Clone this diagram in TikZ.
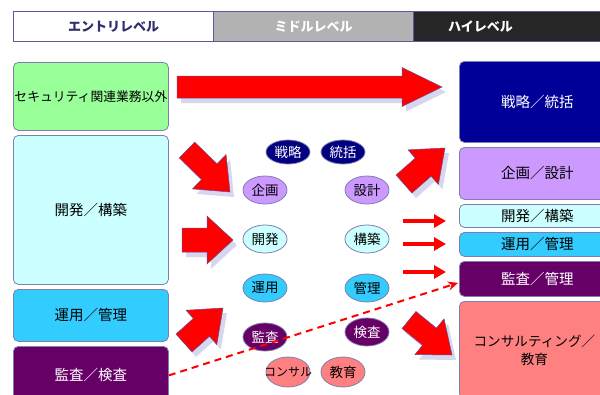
\documentclass[tikz,border=0pt]{standalone}
\usepackage{fontspec}
\setmainfont{Noto Sans CJK JP}
\usetikzlibrary{calc,arrows.meta,shapes.geometric}
\definecolor{headline}{HTML}{5A5A9E}
\definecolor{boxline}{HTML}{7F7FAE}
\definecolor{cgreen}{HTML}{99FF99}
\definecolor{clcyan}{HTML}{CCFFFF}
\definecolor{ccyan}{HTML}{33CCFF}
\definecolor{cpurple}{HTML}{660066}
\definecolor{cnavy}{HTML}{000099}
\definecolor{cnavyb}{HTML}{000080}
\definecolor{clav}{HTML}{CC99FF}
\definecolor{csalmon}{HTML}{FF8080}
\definecolor{cgray}{HTML}{B2B2B2}
\definecolor{cdark}{HTML}{262626}
\definecolor{cshadow}{HTML}{D6D6EE}
\definecolor{headtext}{HTML}{2E2E6E}
\definecolor{arredge}{HTML}{6A4A9A}
\tikzset{
  hdr/.style={draw=headline, line width=1pt, anchor=north west, minimum width=200pt, minimum height=30pt, inner sep=0pt, font=\fontsize{13}{15}\selectfont\bfseries},
  lbox/.style={draw=boxline, line width=0.8pt, rounded corners=5pt, anchor=north west, minimum width=155pt, inner sep=0pt, font=\fontsize{14.5}{16}\selectfont},
  rbox/.style={draw=boxline, line width=0.8pt, rounded corners=5pt, anchor=north west, minimum width=156pt, inner sep=0pt, font=\fontsize{14.5}{18}\selectfont, align=center},
  ell/.style={ellipse, draw=boxline, line width=0.8pt, minimum width=44pt, minimum height=28pt, inner sep=0pt, font=\fontsize{13.5}{15}\selectfont},
  bashadow/.style={fill=cshadow, transform canvas={shift={(4pt,-5pt)}}},
  bamain/.style={fill=red, draw=arredge, line width=0.5pt, line join=miter},
  thinarr/.style={draw=red, line width=4pt, -{Triangle[length=12pt,width=13pt]}},
  dasharr/.style={draw=red, line width=2pt, dash pattern=on 7pt off 5pt, -{Stealth[length=10pt,width=9pt]}}
}
\newcommand\blockarrow[5]{%
  \coordinate (ba-h) at ($(#2)!#5pt!(#1)$);
  \foreach \st in {bashadow,bamain}{%
    \path[\st] ($(#1)!#3pt!90:(#2)$) -- ($(ba-h)!#3pt!90:(#2)$) -- ($(ba-h)!#4pt!90:(#2)$) -- (#2) -- ($(ba-h)!#4pt!-90:(#2)$) -- ($(ba-h)!#3pt!-90:(#2)$) -- ($(#1)!#3pt!-90:(#2)$) -- cycle;
  }%
}
\begin{document}
\begin{tikzpicture}[x=1pt,y=-1pt]
\useasboundingbox (0,0) rectangle (600,394);
\begin{scope}
\clip (0,0) rectangle (600,394);
% header
\node[hdr, fill=white, text=headtext] (H1) at (13,11) {エントリレベル};
\node[hdr, fill=cgray, text=white] (H2) at (213,11) {ミドルレベル};
\node[hdr, fill=cdark, text=white, minimum width=200pt] (H3) at (413,11) {\hspace*{-66pt}ハイレベル};
% left boxes
\node[lbox, fill=cgreen, minimum height=68pt, font=\fontsize{12.8}{15}\selectfont] (L1) at (13,62) {セキュリティ関連業務以外};
\node[lbox, fill=clcyan, minimum height=149pt] (L2) at (13,135) {開発／構築};
\node[lbox, fill=ccyan, minimum height=52pt] (L3) at (13,289) {運用／管理};
\node[lbox, fill=cpurple, text=white, minimum height=58pt] (L4) at (13,346) {監査／検査};
% right boxes
\node[rbox, fill=cnavy, text=white, minimum height=81pt] (R1) at (459,61) {戦略／統括};
\node[rbox, fill=clav, minimum height=52pt] (R2) at (459,147) {企画／設計};
\node[rbox, fill=clcyan, minimum height=23pt] (R3) at (459,204) {開発／構築};
\node[rbox, fill=ccyan, minimum height=24pt] (R4) at (459,232) {運用／管理};
\node[rbox, fill=cpurple, text=white, minimum height=35pt] (R5) at (459,261) {監査／管理};
\node[rbox, fill=csalmon, minimum height=97pt, minimum width=150pt, font=\fontsize{13.6}{18}\selectfont] (R6) at (459,301) {コンサルティング／\\教育};
\fill[csalmon] (600,306) rectangle (620,394);
% ellipses
\node[ell, fill=cnavyb, text=white, minimum height=24pt] (E1) at (288,152) {戦略};
\node[ell, fill=cnavyb, text=white, minimum height=24pt] (E2) at (343,152) {統括};
\node[ell, fill=clav] (E3) at (265,190) {企画};
\node[ell, fill=clav] (E4) at (367,190) {設計};
\node[ell, fill=clcyan] (E5) at (265,239) {開発};
\node[ell, fill=clcyan] (E6) at (367,239) {構築};
\node[ell, fill=ccyan] (E7) at (265,288) {運用};
\node[ell, fill=ccyan] (E8) at (367,288) {管理};
\node[ell, fill=cpurple, text=white] (E9) at (265,337) {監査};
\node[ell, fill=cpurple, text=white] (E10) at (367,332) {検査};
\node[ell, fill=csalmon, minimum height=30pt] (E11) at (288,372) {};
\node[font=\fontsize{12}{14}\selectfont] (E11t) at (E11) {コンサル};
\node[ell, fill=csalmon, minimum height=30pt] (E12) at (343,372) {教育};
% block arrow end points
\coordinate (a1s) at (177,87);   \coordinate (a1e) at (442,87);
\coordinate (a2s) at (187,150);  \coordinate (a2e) at (230,192);
\coordinate (a3s) at (182,240);  \coordinate (a3e) at (233,240);
\coordinate (a4s) at (184,343);  \coordinate (a4e) at (223,308);
\coordinate (a5s) at (404,184);  \coordinate (a5e) at (445,148);
\coordinate (a6s) at (409,320);  \coordinate (a6e) at (452,355);
\blockarrow{a1s}{a1e}{11}{19.5}{40}
\blockarrow{a2s}{a2e}{11}{24}{29}
\blockarrow{a3s}{a3e}{12}{24}{26}
\blockarrow{a4s}{a4e}{12}{23}{29}
\blockarrow{a5s}{a5e}{12}{23}{29}
\blockarrow{a6s}{a6e}{11}{23}{29}
% thin arrows
\coordinate (t1s) at (403,221); \coordinate (t1e) at (446,221);
\coordinate (t2s) at (403,244); \coordinate (t2e) at (446,244);
\coordinate (t3s) at (403,272); \coordinate (t3e) at (446,272);
\draw[thinarr] (t1s) -- (t1e);
\draw[thinarr] (t2s) -- (t2e);
\draw[thinarr] (t3s) -- (t3e);
% dashed
\draw[dasharr] (L4.east) -- ($(R5.west)+(-1,4)$);
\end{scope}
\end{tikzpicture}
\end{document}
